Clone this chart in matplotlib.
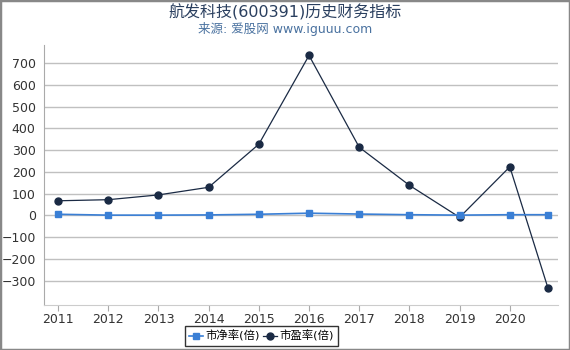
import matplotlib.pyplot as plt
from matplotlib.patches import Rectangle

plt.rcParams['font.family'] = ['DejaVu Sans', 'Noto Sans CJK SC']

years = [2011, 2012, 2013, 2014, 2015, 2016, 2017, 2018, 2019, 2020, 2020.76]
pb = [5, 1, 1, 2, 5, 10, 6, 3, 1, 3, 3]
pe = [67, 72, 94, 129, 327, 735, 313, 138, -9, 223, -334]
xticks = [2011, 2012, 2013, 2014, 2015, 2016, 2017, 2018, 2019, 2020]
yticks = [-300, -200, -100, 0, 100, 200, 300, 400, 500, 600, 700]

fig = plt.figure(figsize=(5.7, 3.5), dpi=100)
ax = fig.add_axes([44 / 570, 45 / 350, 514 / 570, 260 / 350])

ax.plot(years, pb, color='#3a7fd5', marker='s', markersize=5, linewidth=1.2,
        label='市净率(倍)', zorder=3)
ax.plot(years, pe, color='#1a2a44', marker='o', markersize=5, linewidth=0.9,
        label='市盈率(倍)', zorder=2)

ax.set_xlim(2010.72, 2020.96)
ax.set_ylim(-412, 783)
ax.set_xticks(xticks)
ax.set_yticks(yticks)
ax.grid(axis='y', color='#c0c0c0', linewidth=1)
ax.set_axisbelow(True)
for s in ['top', 'right']:
    ax.spines[s].set_visible(False)
ax.spines['left'].set_color('#aaaaaa')
ax.spines['bottom'].set_color('#cccccc')
ax.tick_params(axis='y', length=0, labelsize=9, colors='#333333', pad=6)
ax.tick_params(axis='x', length=4, color='#aaaaaa', labelsize=9,
               colors='#333333', pad=2)

fig.text(0.5, 0.965, '航发科技(600391)历史财务指标', ha='center', va='center',
         fontsize=11.5, color='#2a3f5f')
fig.text(0.5, 0.918, '来源: 爱股网 www.iguuu.com', ha='center', va='center',
         fontsize=9, color='#4a72a0')

leg = fig.legend(loc='lower center', bbox_to_anchor=(0.459, 0.006), ncol=2,
                 fontsize=8.2, frameon=True, fancybox=False, handlelength=1.2,
                 handletextpad=0.25, columnspacing=0.3, borderpad=0.35,
                 borderaxespad=0.2)
leg.get_frame().set_edgecolor('black')
leg.get_frame().set_linewidth(1)

fig.patches.append(Rectangle((0, 0), 1, 1, transform=fig.transFigure,
                             fill=False, edgecolor='#888888', linewidth=2.5))

fig.savefig('out.png', dpi=100)
